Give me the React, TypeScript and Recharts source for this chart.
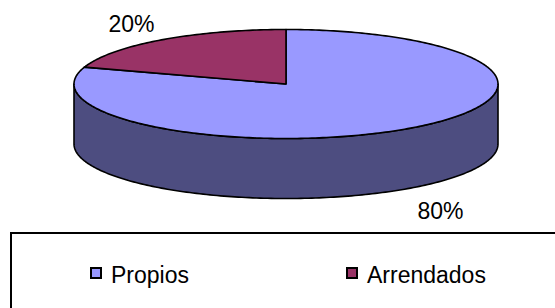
import { PieChart, Pie, Cell, Legend } from 'recharts';

const categories = ['Propios', 'Arrendados'];
const shares = [80, 20];
const topColors = ['#9999FF', '#993366'];
const sideColors = ['#4D4D80', '#4D1A33'];

const pieData = categories.map((name, i) => ({ name, value: shares[i] }));

// flattening of the disc and thickness of the wall, Excel 3-D pie look
const TILT = 54.5 / 212;
const DEPTH = 60;
const RAD = Math.PI / 180;
const FONT = '"Liberation Sans", Arial, sans-serif';

function ellipsePoints(cx: number, cy: number, rx: number, ry: number, a1: number, a2: number, dy = 0) {
  const n = Math.max(2, Math.ceil(Math.abs(a2 - a1)));
  const pts: string[] = [];
  for (let i = 0; i <= n; i++) {
    const a = (a1 + ((a2 - a1) * i) / n) * RAD;
    pts.push(`${(cx + rx * Math.cos(a)).toFixed(2)},${(cy - ry * Math.sin(a) + dy).toFixed(2)}`);
  }
  return pts;
}

const TopFace = (props: any) => {
  const { cx, cy, outerRadius, startAngle, endAngle, fill } = props;
  const pts = ellipsePoints(cx, cy, outerRadius, outerRadius * TILT, startAngle, endAngle);
  return (
    <path
      d={`M${cx},${cy}L${pts.join('L')}Z`}
      fill={fill}
      stroke="#000"
      strokeWidth={1.6}
      strokeLinejoin="round"
    />
  );
};

const SideWall = (props: any) => {
  const { cx, cy, outerRadius, startAngle, endAngle, fill } = props;
  const lo = Math.min(startAngle, endAngle);
  const hi = Math.max(startAngle, endAngle);
  const ry = outerRadius * TILT;
  const walls = [];
  // only the front half (angles where sin < 0) shows its wall
  for (let k = -2; k <= 1; k++) {
    const a1 = Math.max(lo, k * 360 - 180);
    const a2 = Math.min(hi, k * 360);
    if (a2 > a1) {
      const top = ellipsePoints(cx, cy, outerRadius, ry, a1, a2);
      const bottom = ellipsePoints(cx, cy, outerRadius, ry, a2, a1, DEPTH);
      walls.push(
        <path
          key={k}
          d={`M${top.join('L')}L${bottom.join('L')}Z`}
          fill={fill}
          stroke="#000"
          strokeWidth={1.6}
          strokeLinejoin="round"
        />
      );
    }
  }
  return <g>{walls}</g>;
};

const renderLabel = ({ cx, cy, midAngle, outerRadius, percent }: any) => {
  const a = midAngle * RAD;
  const s = Math.sin(a);
  const x = cx + outerRadius * 1.24 * Math.cos(a);
  const y = cy - outerRadius * TILT * 1.35 * s + (s < 0 ? DEPTH + 7 : 0);
  return (
    <text x={x} y={y} textAnchor="middle" dominantBaseline="central" fill="#000" fontSize={23} fontFamily={FONT}>
      {`${Math.round(percent * 100)}%`}
    </text>
  );
};

const LegendBox = () => (
  <div style={{ position: 'relative', width: '100%', height: '100%', fontFamily: FONT }}>
    {categories.map((name, i) => (
      <div key={name} style={{ position: 'absolute', left: i === 0 ? 78 : 334, top: 30, display: 'flex' }}>
        <span
          style={{
            display: 'inline-block',
            width: 12,
            height: 12,
            marginTop: 3,
            boxSizing: 'border-box',
            border: '2px solid #000',
            background: topColors[i],
          }}
        />
        <span style={{ marginLeft: 9, fontSize: 23, lineHeight: '23px', color: '#000' }}>{name}</span>
      </div>
    ))}
  </div>
);

export default function App() {
  return (
    <div style={{ position: 'absolute', left: 0, top: 0, width: 555, height: 308, overflow: 'hidden', background: '#fff' }}>
      <PieChart width={555} height={308} margin={{ top: 0, right: 0, bottom: 0, left: 0 }}>
        <Pie
          data={pieData}
          dataKey="value"
          nameKey="name"
          cx={286}
          cy={84}
          outerRadius={212}
          startAngle={90}
          endAngle={-270}
          stroke="none"
          shape={SideWall}
          activeShape={SideWall}
          inactiveShape={SideWall}
          isAnimationActive={false}
          legendType="none"
        >
          {pieData.map((d, i) => (
            <Cell key={d.name} fill={sideColors[i]} />
          ))}
        </Pie>
        <Pie
          data={pieData}
          dataKey="value"
          nameKey="name"
          cx={286}
          cy={84}
          outerRadius={212}
          startAngle={90}
          endAngle={-270}
          stroke="none"
          shape={TopFace}
          activeShape={TopFace}
          inactiveShape={TopFace}
          label={renderLabel}
          labelLine={false}
          isAnimationActive={false}
        >
          {pieData.map((d, i) => (
            <Cell key={d.name} fill={topColors[i]} />
          ))}
        </Pie>
        <Legend
          content={LegendBox}
          wrapperStyle={{
            left: 10,
            top: 232,
            bottom: 'auto',
            width: 570,
            height: 100,
            border: '2px solid #000',
            boxSizing: 'border-box',
            background: '#fff',
          }}
        />
      </PieChart>
    </div>
  );
}
